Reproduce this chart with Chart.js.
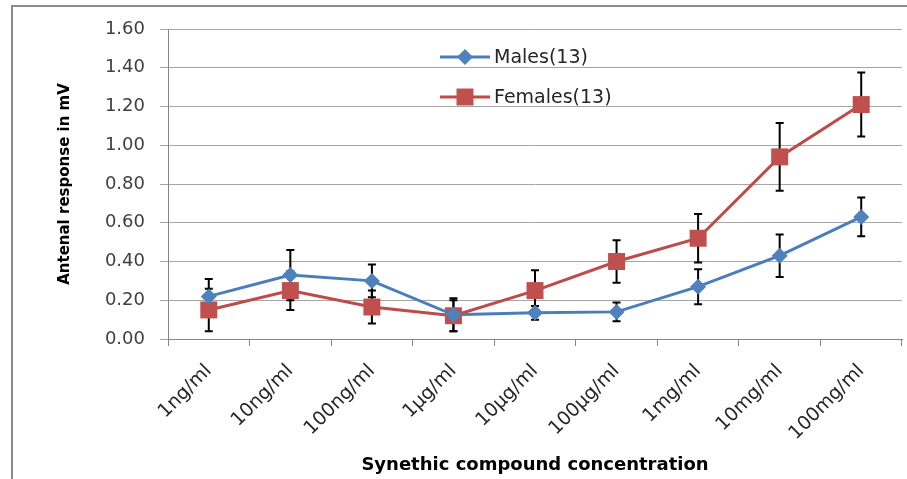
<!DOCTYPE html>
<html><head><meta charset="utf-8">
<script src="https://cdn.jsdelivr.net/npm/chart.js@4/dist/chart.umd.min.js"></script>
<style>html,body{margin:0;padding:0;background:#fff;overflow:hidden;} canvas{display:block;}</style>
</head><body>
<canvas id="c" width="907" height="479"></canvas>
<script>
const categories = ['1ng/ml','10ng/ml','100ng/ml','1µg/ml','10µg/ml','100µg/ml','1mg/ml','10mg/ml','100mg/ml'];
const malesValues = [0.22, 0.33, 0.30, 0.125, 0.135, 0.14, 0.27, 0.43, 0.63];
const malesErrors = [0.09, 0.13, 0.085, 0.085, 0.035, 0.048, 0.09, 0.11, 0.10];
const femalesValues = [0.15, 0.25, 0.165, 0.12, 0.25, 0.40, 0.52, 0.94, 1.21];
const femalesErrors = [0.11, 0.10, 0.085, 0.08, 0.105, 0.11, 0.125, 0.175, 0.165];
const yTickValues = [0, 0.2, 0.4, 0.6, 0.8, 1.0, 1.2, 1.4, 1.6];
const seriesNames = ['Males(13)', 'Females(13)'];
const axisTitles = {x: 'Synethic compound concentration', y: 'Antenal response in mV'};

const errorSets = [malesErrors, femalesErrors];

const errorBarPlugin = {
  id: 'errorBars',
  beforeDatasetsDraw(chart) {
    const ctx = chart.ctx;
    const ys = chart.scales.y;
    ctx.save();
    ctx.strokeStyle = '#000';
    ctx.lineWidth = 2;
    chart.data.datasets.forEach((ds, di) => {
      const meta = chart.getDatasetMeta(di);
      meta.data.forEach((pt, i) => {
        const v = ds.data[i], e = errorSets[di][i];
        const x = pt.x;
        const yt = ys.getPixelForValue(v + e), yb = ys.getPixelForValue(v - e);
        ctx.beginPath();
        ctx.moveTo(x, yt); ctx.lineTo(x, yb);
        ctx.moveTo(x - 4, yt); ctx.lineTo(x + 4, yt);
        ctx.moveTo(x - 4, yb); ctx.lineTo(x + 4, yb);
        ctx.stroke();
      });
    });
    ctx.restore();
  }
};

const frameLegendPlugin = {
  id: 'frameLegend',
  beforeDraw(chart) {
    const ctx = chart.ctx;
    ctx.save();
    ctx.fillStyle = '#fff';
    ctx.fillRect(0, 0, chart.width, chart.height);
    ctx.strokeStyle = '#8c8c8c';
    ctx.lineWidth = 2;
    ctx.strokeRect(12, 6, 1000, 600);
    ctx.restore();
  },
  afterDraw(chart) {
    const ctx = chart.ctx;
    const rows = [57, 97];
    ctx.save();
    chart.data.datasets.forEach((ds, di) => {
      const y = rows[di];
      ctx.strokeStyle = ds.borderColor;
      ctx.lineWidth = 3;
      ctx.beginPath(); ctx.moveTo(440, y); ctx.lineTo(490, y); ctx.stroke();
      ctx.fillStyle = ds.pointBackgroundColor;
      Chart.helpers.drawPoint(ctx, {pointStyle: ds.pointStyle, radius: ds.pointRadius, rotation: 0, borderWidth: 0}, 465, y);
      ctx.fillStyle = '#262626';
      ctx.font = '19px "DejaVu Sans"';
      ctx.textBaseline = 'middle';
      ctx.textAlign = 'left';
      ctx.fillText(ds.label, 494, y + 1);
    });
    ctx.restore();
  }
};

const zeroPad = () => ({left: 0, top: 0, right: 0, bottom: 0});

new Chart(document.getElementById('c'), {
  type: 'line',
  data: {
    labels: categories,
    datasets: [
      {label: seriesNames[0], data: malesValues, borderColor: '#4A7EBB', borderWidth: 3,
       pointStyle: 'rectRot', pointRadius: 8, pointBackgroundColor: '#4F81BD', pointBorderWidth: 0, tension: 0},
      {label: seriesNames[1], data: femalesValues, borderColor: '#BE4B48', borderWidth: 3,
       pointStyle: 'rect', pointRadius: 12, pointBackgroundColor: '#C0504D', pointBorderWidth: 0, tension: 0}
    ]
  },
  plugins: [errorBarPlugin, frameLegendPlugin],
  options: {
    responsive: false,
    devicePixelRatio: 1,
    animation: false,
    layout: {autoPadding: false, padding: {left: 14, top: 29, right: 5, bottom: 0}},
    plugins: {legend: {display: false}, tooltip: {enabled: false}},
    scales: {
      x: {
        offset: true,
        grid: {offset: true, drawOnChartArea: false, tickLength: 7, color: '#868686', lineWidth: 1},
        border: {color: '#868686', width: 1},
        ticks: {minRotation: 45, maxRotation: 45, autoSkip: false, color: '#262626',
                font: {family: 'DejaVu Sans', size: 19}, padding: 14},
        title: {display: true, text: axisTitles.x, color: '#000',
                font: {family: 'DejaVu Sans', size: 18, weight: 'bold'}, padding: {top: 0, bottom: 3}},
        afterFit(s) { s.height = 140; s.paddingLeft = 0; s.paddingRight = 0; s.getPadding = zeroPad; }
      },
      y: {
        min: 0, max: 1.6,
        afterBuildTicks(s) { s.ticks = yTickValues.map(v => ({value: v})); },
        grid: {color: '#a6a6a6', lineWidth: 1, tickLength: 8},
        border: {color: '#868686', width: 1},
        ticks: {color: '#404040', font: {family: 'DejaVu Sans', size: 18}, padding: 15,
                callback: v => Number(v).toFixed(2)},
        title: {display: true, text: axisTitles.y, color: '#000',
                font: {family: 'DejaVu Sans', size: 15, weight: 'bold'}, padding: {top: 42, bottom: 0}},
        afterFit(s) { s.width = 154; s.paddingTop = 0; s.paddingBottom = 0; s.getPadding = zeroPad; }
      }
    }
  }
});
</script>
</body></html>
